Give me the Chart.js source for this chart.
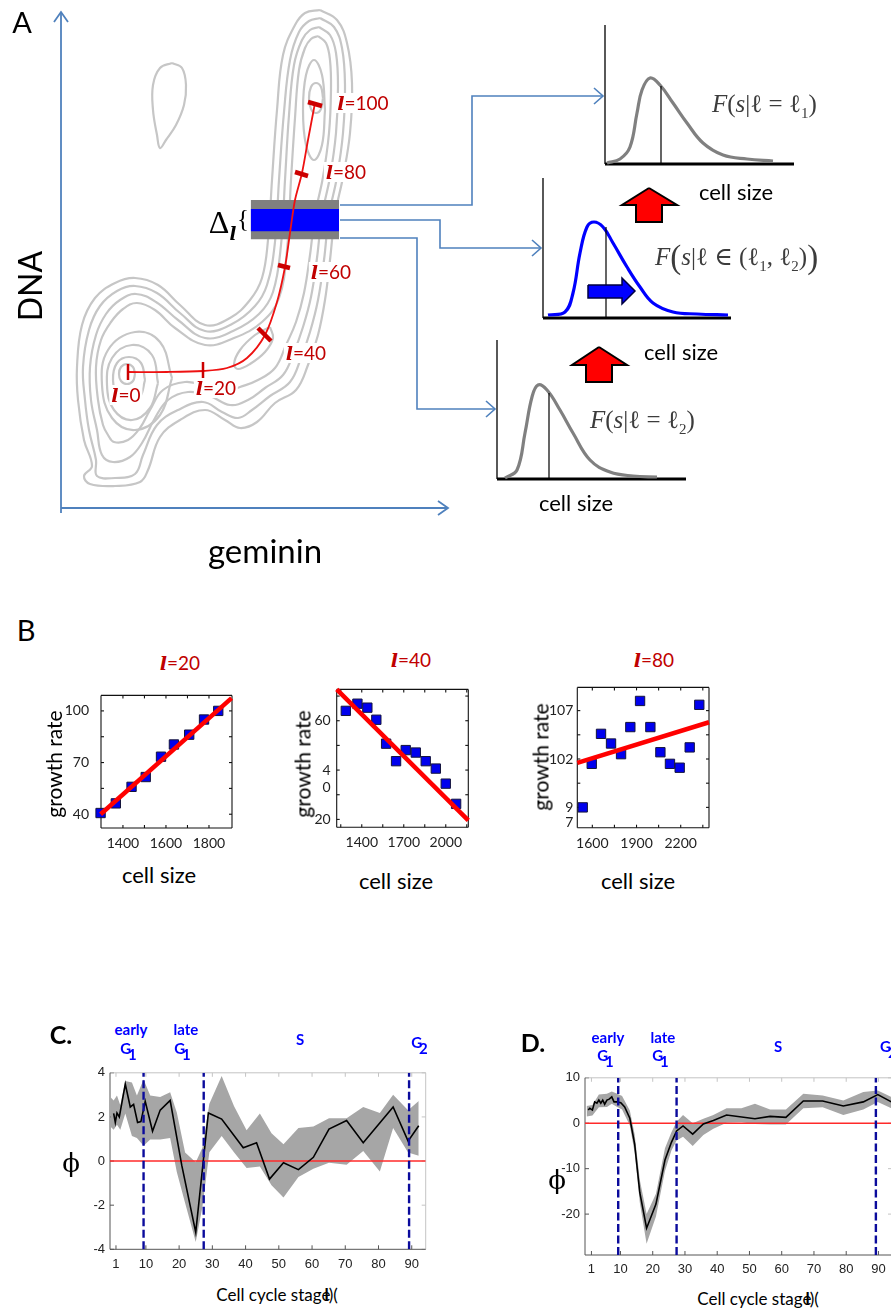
<!DOCTYPE html>
<html>
<head>
<meta charset="utf-8">
<script src="https://cdn.jsdelivr.net/npm/chart.js@4.4.0/dist/chart.umd.min.js"></script>
<style>
  body { margin: 0; width: 891px; height: 1309px; overflow: hidden; background: #fff; position: relative; font-family: Lato, sans-serif; color: #000; }
  canvas { position: absolute; }
  .t { position: absolute; transform: translate(-50%, -50%); white-space: nowrap; line-height: 1; }
  .l { position: absolute; transform: translate(0, -50%); white-space: nowrap; line-height: 1; }
  .red { color: #c00000; font-size: 19px; background: #fff; padding: 0 2px; }
  .ell { font-family: "DejaVu Serif", serif; font-weight: bold; font-style: italic; }
  .math { font-family: "Liberation Serif", "DejaVu Serif", serif; font-size: 25px; color: #3c3c3c; }
  .math i { font-style: italic; }
  .big { font-size: 33px; vertical-align: -3px; }
  .stage { color: #0000ff; font-weight: bold; font-size: 15px; text-align: center; }
  .sub1 { position: relative; left: -3px; top: 6px; }
  .phi { font-family: "DejaVu Serif", serif; font-size: 26px; }
  .ov { margin-left: -6px; font-weight: bold; }
</style>
</head>
<body>
<canvas id="panelA" width="891" height="590" style="left:0;top:0"></canvas>
<canvas id="b20" width="190" height="180" style="left:55px;top:675px"></canvas>
<canvas id="b40" width="190" height="180" style="left:290px;top:675px"></canvas>
<canvas id="b80" width="190" height="180" style="left:530px;top:675px"></canvas>
<canvas id="pc" width="360" height="215" style="left:80px;top:1060px"></canvas>
<canvas id="pd" width="360" height="215" style="left:550px;top:1065px"></canvas>

<!-- panel A text -->
<div class="t" style="left:22px;top:21px;font-size:29px">A</div>
<div class="t" style="left:30px;top:286px;font-size:32px;transform:translate(-50%,-50%) rotate(-90deg)">DNA</div>
<div class="t" style="left:265px;top:550px;font-size:33px">geminin</div>
<div class="t" style="left:219px;top:222px;font-family:'Liberation Serif',serif;font-size:32px">Δ</div>
<div class="t ell" style="left:233px;top:234px;font-size:18px">l</div>
<div class="t" style="left:243px;top:218px;font-family:'Liberation Serif',serif;font-size:25px">{</div>
<div class="t red" style="left:126px;top:395px"><span class="ell">l</span>=0</div>
<div class="t red" style="left:216px;top:388px"><span class="ell">l</span>=20</div>
<div class="t red" style="left:306px;top:353px"><span class="ell">l</span>=40</div>
<div class="t red" style="left:331px;top:272px"><span class="ell">l</span>=60</div>
<div class="t red" style="left:346px;top:172px"><span class="ell">l</span>=80</div>
<div class="t red" style="left:363px;top:103px"><span class="ell">l</span>=100</div>
<div class="l math" style="left:712px;top:106px"><i>F</i>(<i>s</i>|ℓ = ℓ<sub style="font-size:15px">1</sub>)</div>
<div class="l math" style="left:655px;top:257px"><i>F</i><span class="big">(</span><i>s</i>|ℓ ∈ (ℓ<sub style="font-size:15px">1</sub>, ℓ<sub style="font-size:15px">2</sub>)<span class="big">)</span></div>
<div class="l math" style="left:590px;top:422px"><i>F</i>(<i>s</i>|ℓ = ℓ<sub style="font-size:15px">2</sub>)</div>
<div class="t" style="left:736px;top:192px;font-size:22px">cell size</div>
<div class="t" style="left:681px;top:352px;font-size:22px">cell size</div>
<div class="t" style="left:576px;top:503px;font-size:22px">cell size</div>

<!-- panel B text -->
<div class="t" style="left:26px;top:629px;font-size:29px">B</div>
<div class="t red" style="left:180px;top:663px;background:none"><span class="ell">l</span>=20</div>
<div class="t red" style="left:411px;top:660px;background:none"><span class="ell">l</span>=40</div>
<div class="t red" style="left:654px;top:660px;background:none"><span class="ell">l</span>=80</div>
<div class="t" style="left:53px;top:764px;font-size:21px;transform:translate(-50%,-50%) rotate(-90deg)">growth rate</div>
<div class="t" style="left:302px;top:764px;font-size:21px;transform:translate(-50%,-50%) rotate(-90deg)">growth rate</div>
<div class="t" style="left:540px;top:757px;font-size:21px;transform:translate(-50%,-50%) rotate(-90deg)">growth rate</div>
<div class="t" style="left:159px;top:875px;font-size:22px">cell size</div>
<div class="t" style="left:396px;top:881px;font-size:22px">cell size</div>
<div class="t" style="left:638px;top:881px;font-size:22px">cell size</div>

<!-- panels C, D text -->
<div class="t" style="left:61px;top:1034px;font-size:25px;font-weight:bold">C.</div>
<div class="t stage" style="left:131px;top:1029px">early</div>
<div class="t stage" style="left:130px;top:1048px">G<span class="sub1">1</span></div>
<div class="t stage" style="left:186px;top:1029px">late</div>
<div class="t stage" style="left:184px;top:1048px">G<span class="sub1">1</span></div>
<div class="t stage" style="left:300px;top:1039px">S</div>
<div class="t stage" style="left:421px;top:1042px">G<span class="sub1">2</span></div>
<div class="t phi" style="left:71px;top:1163px">ϕ</div>
<div class="t" style="left:277px;top:1294px;font-size:17px">Cell cycle stage<span class="ov">l</span>)(</div>

<div class="t" style="left:533px;top:1042px;font-size:25px;font-weight:bold">D.</div>
<div class="t stage" style="left:608px;top:1037px">early</div>
<div class="t stage" style="left:607px;top:1055px">G<span class="sub1">1</span></div>
<div class="t stage" style="left:663px;top:1037px">late</div>
<div class="t stage" style="left:662px;top:1055px">G<span class="sub1">1</span></div>
<div class="t stage" style="left:778px;top:1046px">S</div>
<div class="l stage" style="left:880px;top:1046px">G<span class="sub1">2</span></div>
<div class="t phi" style="left:557px;top:1180px">ϕ</div>
<div class="t" style="left:758px;top:1298px;font-size:17px">Cell cycle stage<span class="ov">l</span>)(</div>

<script>
// ---------- Panel A: schematic outlines (geminin / DNA units from the arrow axes) ----------
const contour0 = [[259,500],[276,490],[286,467],[291,427],[289,377],[282,333],[274,295],[269,250],[264,210],[257,175],[247,145],[235,120],[214,107],[196,88],[179,82],[164,90],[144,100],[119,90],[99,73],[87,40],[79,28],[54,24],[29,26],[23,34],[31,44],[23,70],[17,110],[16,143],[21,185],[34,212],[54,227],[74,232],[97,225],[119,205],[144,185],[169,192],[189,210],[201,232],[207,270],[211,330],[216,400],[222,455],[234,485],[244,497],[259,500]];
const contour1 = [[259,492],[273,483],[281,462],[284,425],[282,377],[276,333],[268,295],[263,250],[257,210],[249,178],[240,152],[229,128],[209,114],[191,100],[177,92],[161,98],[142,108],[117,100],[96,85],[82,55],[74,36],[54,32],[36,34],[35,50],[28,80],[24,110],[22,143],[28,180],[39,204],[56,219],[74,224],[96,217],[119,197],[144,179],[171,186],[194,204],[206,225],[214,268],[218,330],[223,398],[229,450],[238,478],[248,489],[259,492]];
const contour2 = [[258,483],[269,475],[275,457],[277,423],[275,377],[269,333],[261,295],[256,252],[250,213],[242,183],[233,158],[222,135],[204,122],[187,110],[169,105],[149,114],[127,118],[107,110],[94,92],[81,67],[69,53],[52,48],[41,55],[36,80],[30,110],[29,143],[35,175],[45,196],[59,210],[75,216],[95,208],[117,190],[144,172],[172,179],[198,196],[212,218],[220,265],[224,330],[228,395],[233,445],[241,470],[249,480],[258,483]];
const contour3 = [[257,474],[265,467],[269,450],[270,420],[268,377],[262,333],[254,295],[249,255],[243,217],[235,188],[225,165],[214,142],[197,130],[179,123],[161,117],[144,124],[124,128],[102,120],[89,100],[79,82],[67,70],[53,68],[47,75],[42,85],[37,110],[35,143],[40,170],[50,188],[62,201],[76,207],[94,200],[114,182],[144,165],[173,172],[201,188],[218,212],[226,260],[230,330],[234,392],[238,440],[244,462],[250,471],[257,474]];
const ring1 = [[74,136],[72,129],[66,126],[60,129],[58,136],[60,143],[66,146],[72,143],[74,136]];
const ring2 = [[84,130],[79,113],[68,107],[57,113],[52,130],[56,147],[68,153],[80,147],[84,130]];
const ring3 = [[97,127],[89,102],[71,90],[53,100],[46,125],[51,152],[71,165],[91,155],[97,127]];
const ring4 = [[111,132],[99,95],[74,80],[51,92],[41,125],[47,160],[74,178],[99,168],[111,132]];
const peak1 = [[262,412],[260,401],[255,397],[250,401],[248,412],[250,423],[255,427],[260,423],[262,412]];
const peak2 = [[264,400],[261,365],[253,350],[245,365],[242,400],[245,435],[253,450],[261,435],[264,400]];
const bump = [[209,183],[212,172],[204,158],[189,146],[177,141],[173,146],[179,160],[194,175],[209,183]];
const island = [[111,447],[121,442],[125,425],[123,405],[115,385],[105,370],[99,362],[96,375],[92,400],[92,425],[99,442],[111,447]];

// mean trajectory and the l = 0, 20, 40, 60, 80, 100 marks
const pathGem = [67, 106, 142, 166, 186, 204, 216, 224, 229, 234, 241, 247, 254];
const pathDna = [138, 138, 139, 142, 152, 175, 208, 243, 277, 310, 337, 370, 407];
const stageMarks = [[[67,146],[67,130]], [[142,148],[142,130]], [[197,182],[210,169]], [[217,245],[229,242]], [[234,338],[247,334]], [[247,408],[261,404]]];

// window Δl and connectors to the three size distributions
const windowGem = [189.7, 278];
const connectors = [[[279,305],[411,305],[411,414],[542,414]], [[279,290],[379,290],[379,262],[480,262]], [[279,272],[356,272],[356,101],[434,101]]];
const arrowHeads = [[[533,422],[542,414],[533,406]], [[471,270],[480,262],[471,254]], [[425,109],[434,101],[425,93]]];
const dnaAxis = [[0,-3],[0,498]], dnaHead = [[-7,488],[0,498],[7,488]];
const gemAxis = [[0,2],[387,2]], gemHead = [[377,9],[387,2],[377,-5]];

// cell size distributions F(s|l)
const d1X = [546, 559, 569, 576, 581, 589, 599, 612, 626, 642, 662, 686, 712];
const d1Y = [347, 351, 363, 397, 420, 432, 425, 407, 387, 367, 355, 351, 349];
const d2X = [487, 504, 512, 519, 526, 533, 542, 552, 566, 579, 592, 612, 636, 667];
const d2Y = [195, 198, 217, 257, 283, 288, 283, 267, 243, 223, 207, 198, 196, 195];
const d3X = [444, 456, 464, 471, 477, 486, 499, 512, 529, 549, 572, 596];
const d3Y = [32, 40, 77, 113, 125, 120, 100, 77, 50, 38, 34, 33];
const distAxes = [[[544,485],[544,346]], [[482,332],[482,192]], [[436,170],[436,31]]];
const distBase = [[[544,346],[733,346]], [[482,192],[670,192]], [[436,31],[625,31]]];
const distMean = [[[600,424],[600,346]], [[545,283],[545,192]], [[488,117],[488,31]]];
const upArrow1 = [[588,322],[616,305],[601,305],[601,288],[575,288],[575,305],[561,305],[588,322]];
const upArrow2 = [[538,163],[566,145],[551,145],[551,128],[525,128],[525,145],[511,145],[538,163]];
const shiftArrow = [[527,225],[561,225],[561,232],[574,219],[561,206],[561,212],[527,212],[527,225]];

// ---------- Panel B: growth rate vs cell size ----------
const size20 = [1296, 1367, 1440, 1506, 1577, 1637, 1708, 1777, 1843];
const rate20 = [40.7, 46.3, 55.9, 61.6, 73.4, 80.5, 86.2, 95, 100];
const fit20X = [1296, 1905], fit20Y = [40, 107.4];
const size40 = [1286, 1369, 1440, 1504, 1574, 1645, 1714, 1786, 1857, 1929, 2000, 2074];
const rate40 = [64, 66.9, 65.3, 60.4, 50.7, 43.6, 48.1, 47.1, 43.6, 40.6, 34.5, 26.3];
const fit40X = [1221, 2161], fit40Y = [72.7, 19.6];
const size80 = [1535, 1596, 1659, 1727, 1795, 1858, 1924, 1994, 2062, 2127, 2193, 2261, 2326];
const rate80 = [97, 101.5, 104.6, 103.6, 102.5, 105.3, 108, 105.3, 102.7, 101.5, 101.1, 103.2, 107.6];
const fit80X = [1498, 2392], fit80Y = [101.6, 105.8];

// ---------- Panels C, D: phi along the cell cycle ----------
const stageBounds = [9.3, 27.4, 89.2];
const stageTicks = [1, 10, 20, 30, 40, 50, 60, 70, 80, 90];
const cStage = [0.3, 0.8, 1.3, 2, 3.8, 5.3, 6.3, 7.5, 8.5, 9.8, 12, 14.3, 17.3, 20.8, 25, 28.8, 32.8, 39.3, 43.3, 47.2, 51.4, 55.9, 60.4, 65.1, 70.4, 75.4, 84.4, 88.9, 92.1];
const cPhi = [2.16, 1.75, 2.18, 2.0, 3.49, 2.45, 2.57, 1.75, 1.79, 2.71, 1.35, 2.31, 2.75, -0.2, -3.23, 2.18, 1.9, 0.6, 0.83, -0.82, -0.08, -0.39, 0.17, 1.45, 1.84, 0.83, 2.45, 0.9, 1.6];
const cBandStage = [-0.7, 0.3, 1.3, 2.3, 3.8, 5.8, 7.3, 9.3, 11.3, 14.3, 17.3, 19.3, 21.8, 25, 27, 29.1, 32.8, 36.5, 40.3, 44.3, 47.8, 51.4, 55.9, 60.4, 65.1, 70.4, 75.4, 80.4, 84.4, 88.9, 92.1];
const cUpper = [2.9, 2.75, 2.97, 2.53, 3.63, 3.56, 2.97, 3.7, 2.97, 2.9, 3.12, 2.2, 0.39, -0.06, 0.6, 2.6, 3.85, 2.5, 1.4, 2.15, 1.26, 0.76, 1.5, 1.57, 1.94, 1.94, 2.45, 2.18, 3.01, 2.3, 2.72];
const cLower = [1.57, 1.42, 1.64, 1.42, 2.16, 1.13, 1.05, 0.69, 0.98, 0.98, 1.05, -0.5, -1.9, -3.67, -2.08, 0.4, 1.13, 0.4, -0.32, -0.25, -1.1, -1.65, -0.72, -0.35, -0.08, -0.17, 0.46, -0.47, 1.5, 0.39, 0.24];

const dStage = [0, 0.5, 1.3, 2, 2.7, 3.3, 3.9, 4.5, 5.1, 5.8, 6.5, 7.3, 8, 8.8, 10.1, 11.3, 12.9, 14.4, 16, 18.1, 21, 23.8, 25.8, 27.4, 29.4, 32.4, 35.7, 38.8, 42.9, 51.7, 56.4, 61.3, 66.7, 72.7, 79.1, 85.3, 89.8, 94];
const dPhi = [2.9, 3.3, 2.9, 4.7, 4.4, 5.1, 4.4, 5.1, 4.2, 5.1, 5.3, 5.8, 4.7, 4.7, 4.5, 3.6, 1.1, -4.6, -15.3, -23.1, -17.8, -8.1, -4.2, -1.7, -0.6, -2.4, -0.15, 0.6, 1.8, 1.0, 1.5, 1.3, 4.9, 4.9, 3.8, 4.7, 6.3, 4.7];
const dBandStage = [-0.5, 1.3, 3.3, 5.8, 7.3, 9, 10.5, 12.9, 14.4, 16, 18.1, 21, 23.8, 25.8, 27.4, 29.4, 32.4, 35.7, 38.8, 42.9, 47.5, 51.7, 56.4, 61.3, 66.7, 72.7, 79.1, 85.3, 89.8, 94];
const dUpper = [3.8, 4.0, 6.3, 6.5, 7.0, 6.5, 6.0, 2.8, -2.5, -12.5, -20.0, -15.5, -5.5, -2.0, 0.3, 1.8, 0.0, 1.0, 1.8, 3.3, 3.3, 4.3, 3.0, 3.0, 6.5, 6.1, 5.0, 6.9, 7.2, 5.8];
const dLower = [1.5, 1.7, 3.5, 3.6, 4.3, 3.6, 3.0, -0.5, -6.5, -17.5, -26.5, -20.5, -10.5, -6.0, -3.8, -3.0, -5.0, -2.6, -1.2, 0.1, 0.2, -0.15, -0.3, -0.3, 3.3, 3.5, 1.8, 3.0, 4.7, 3.3];

// ---------- helpers ----------
Chart.defaults.animation = false;
Chart.defaults.responsive = false;
Chart.defaults.events = [];
Chart.defaults.plugins.legend.display = false;
Chart.defaults.plugins.tooltip.enabled = false;

const pts = a => a.map(([x, y]) => ({x, y}));
const xy = (xs, ys) => xs.map((x, i) => ({x, y: ys[i]}));
const line = (data, color, width, extra) =>
  Object.assign({data, borderColor: color, borderWidth: width, pointRadius: 0, fill: false, tension: 0}, extra || {});

// box around plot area with inward tick marks (matlab style)
function boxTicks(o) {
  return {
    id: 'boxTicks',
    beforeDatasetsDraw(chart) {
      const {ctx, chartArea: a} = chart;
      const sx = chart.scales.x, sy = chart.scales.y;
      const seg = (x1, y1, x2, y2, c) => { ctx.strokeStyle = c; ctx.beginPath(); ctx.moveTo(x1, y1); ctx.lineTo(x2, y2); ctx.stroke(); };
      ctx.save();
      ctx.lineWidth = o.width;
      o.xMarks.forEach(v => {
        const p = sx.getPixelForValue(v);
        seg(p, a.bottom, p, a.bottom - o.len, o.dark);
        seg(p, a.top, p, a.top + o.len, o.light);
      });
      o.yMarks.forEach(v => {
        const p = sy.getPixelForValue(v);
        seg(a.left, p, a.left + o.len, p, o.dark);
        seg(a.right, p, a.right - o.len, p, o.light);
      });
      seg(a.left, a.top, a.right, a.top, o.light);
      seg(a.right, a.top, a.right, a.bottom, o.light);
      seg(a.left, a.bottom, a.right, a.bottom, o.dark);
      seg(a.left, a.top, a.left, a.bottom, o.dark);
      ctx.restore();
    }
  };
}

// ---------- Panel A ----------
const contourStyle = {tension: 0.4};
const gray = '#c6c6c6';
const aSets = [];
stageMarks.forEach((m, i) => aSets.push(line(pts(m), '#cc0000', i < 2 ? 2.5 : 4.5)));
aSets.push(line(xy(pathGem, pathDna), '#ee1111', 1.8, {tension: 0.3}));
[upArrow1, upArrow2].forEach(a => aSets.push(line(pts(a), '#000', 2, {fill: 'shape', backgroundColor: '#ff0000'})));
aSets.push(line(pts(shiftArrow), '#000040', 1.5, {fill: 'shape', backgroundColor: '#0000ff'}));
distMean.forEach(m => aSets.push(line(pts(m), '#000', 1.2)));
aSets.push(line(xy(d1X, d1Y), '#808080', 3.2, {tension: 0.4}));
aSets.push(line(xy(d2X, d2Y), '#0000ff', 3.2, {tension: 0.4}));
aSets.push(line(xy(d3X, d3Y), '#808080', 3.2, {tension: 0.4}));
distAxes.forEach(m => aSets.push(line(pts(m), '#000', 1.3)));
distBase.forEach(m => aSets.push(line(pts(m), '#000', 3.2)));
connectors.forEach(c => aSets.push(line(pts(c), '#4f81bd', 1.6)));
arrowHeads.forEach(c => aSets.push(line(pts(c), '#4f81bd', 1.6)));
[dnaAxis, dnaHead, gemAxis, gemHead].forEach(c => aSets.push(line(pts(c), '#4f81bd', 1.8)));
aSets.push(line(xy(windowGem, [301, 301]), '#0000ff', 0, {fill: {value: 278.7}, backgroundColor: '#0000ff'}));
aSets.push(line(xy(windowGem, [310, 310]), '#808080', 0, {fill: {value: 270.7}, backgroundColor: '#808080'}));
[contour0, contour1, contour2, contour3, ring1, ring2, ring3, ring4, peak1, peak2, bump, island]
  .forEach(c => aSets.push(line(pts(c), gray, 2.2, contourStyle)));

new Chart(document.getElementById('panelA'), {
  type: 'line',
  data: {datasets: aSets},
  options: {
    layout: {padding: 0},
    scales: {
      x: {type: 'linear', min: -61, max: 830, display: false},
      y: {type: 'linear', min: -80, max: 510, display: false}
    }
  }
});

// ---------- Panel B ----------
function growthPanel(id, c) {
  const font = {family: 'Lato', size: 14};
  new Chart(document.getElementById(id), {
    type: 'line',
    data: {datasets: [
      line(xy(c.fitX, c.fitY), '#ff0000', 4.5, {clip: false}),
      {data: xy(c.sizes, c.rates), showLine: false, pointStyle: 'rect', pointRadius: 6.6,
       backgroundColor: '#0000ee', borderColor: '#14143c', borderWidth: 1, clip: false}
    ]},
    options: {
      layout: {padding: {top: c.padTop, right: c.padRight, left: 0, bottom: 0}},
      scales: {
        x: {type: 'linear', min: c.xMin, max: c.xMax, grid: {display: false, drawTicks: false}, border: {display: false},
            afterBuildTicks: s => { s.ticks = c.xLabels.map(v => ({value: v})); },
            afterFit: s => { s.height = c.xHeight; },
            ticks: {font, color: '#222', padding: 7, maxRotation: 0, autoSkip: false, callback: v => String(v)}},
        y: {type: 'linear', min: c.yMin, max: c.yMax, grid: {display: false, drawTicks: false}, border: {display: false},
            afterBuildTicks: s => { s.ticks = c.yLabelVals.map(v => ({value: v})); },
            afterFit: s => { s.width = c.yWidth; },
            ticks: {font, color: '#222', padding: c.yPad, autoSkip: false, callback: (v, i) => c.yLabels[i]}}
      }
    },
    plugins: [boxTicks({xMarks: c.xMarks, yMarks: c.yMarks, len: 3, width: 1.1, dark: '#111', light: '#111'})]
  });
}

growthPanel('b20', {sizes: size20, rates: rate20, fitX: fit20X, fitY: fit20Y,
  xMin: 1298, xMax: 1907, yMin: 32, yMax: 109,
  xLabels: [1400, 1600, 1800], yLabelVals: [40, 70, 100], yLabels: ['40', '70', '100'],
  xMarks: [1400, 1500, 1600, 1700, 1800], yMarks: [40, 55, 70, 85, 100],
  yWidth: 46, xHeight: 27, padTop: 9, padRight: 13, yPad: 12});

growthPanel('b40', {sizes: size40, rates: rate40, fitX: fit40X, fitY: fit40Y,
  xMin: 1221, xMax: 2161, yMin: 16.8, yMax: 72.7,
  xLabels: [1400, 1700, 2000], yLabelVals: [20, 32.8, 40, 60], yLabels: ['20', '0', '4', '60'],
  xMarks: [1250, 1400, 1550, 1700, 1850, 2000, 2150], yMarks: [20, 30, 40, 50, 60, 70],
  yWidth: 46.7, xHeight: 27.7, padTop: 8.3, padRight: 11.7, yPad: 6});

growthPanel('b80', {sizes: size80, rates: rate80, fitX: fit80X, fitY: fit80Y,
  xMin: 1498, xMax: 2392, yMin: 94.9, yMax: 109.4,
  xLabels: [1600, 1900, 2200], yLabelVals: [95.4, 97, 102, 107], yLabels: ['7', '9', '102', '107'],
  xMarks: [1600, 1750, 1900, 2050, 2200, 2350], yMarks: [97, 99.5, 102, 104.5, 107],
  yWidth: 47.3, xHeight: 27.3, padTop: 7.7, padRight: 11, yPad: 4});

// ---------- Panels C, D ----------
function phiPanel(id, c) {
  const font = {family: 'Liberation Sans', size: 13};
  const sets = stageBounds.map(b => line(xy([b, b], [c.yMin, c.yMax]), '#0b0b9c', 2.4, {borderDash: [8, 3.5]}));
  sets.push(line(xy(c.stage, c.phi), '#000', 1.6));
  sets.push(line(xy([c.xMin, c.xMax], [0, 0]), '#ff2a2a', 1.6));
  sets.push(line(xy(c.bandStage, c.upper), 'rgba(0,0,0,0)', 0, {fill: '+1', backgroundColor: '#a6a6a6'}));
  sets.push(line(xy(c.bandStage, c.lower), 'rgba(0,0,0,0)', 0));
  new Chart(document.getElementById(id), {
    type: 'line',
    data: {datasets: sets},
    options: {
      layout: {padding: {top: c.padTop, right: c.padRight, left: 0, bottom: 0}},
      scales: {
        x: {type: 'linear', min: c.xMin, max: c.xMax, grid: {display: false, drawTicks: false}, border: {display: false},
            afterBuildTicks: s => { s.ticks = stageTicks.map(v => ({value: v})); },
            afterFit: s => { s.height = c.xHeight; },
            ticks: {font, color: '#222', padding: 7, maxRotation: 0, autoSkip: false, callback: v => String(v)}},
        y: {type: 'linear', min: c.yMin, max: c.yMax, grid: {display: false, drawTicks: false}, border: {display: false},
            afterBuildTicks: s => { s.ticks = c.yTicks.map(v => ({value: v})); },
            afterFit: s => { s.width = c.yWidth; },
            ticks: {font, color: '#222', padding: 5, autoSkip: false, callback: v => String(v)}}
      }
    },
    plugins: [boxTicks({xMarks: stageTicks, yMarks: c.yTicks, len: 4, width: 1, dark: '#555', light: '#c4c4c4'})]
  });
}

phiPanel('pc', {stage: cStage, phi: cPhi, bandStage: cBandStage, upper: cUpper, lower: cLower,
  xMin: -0.8, xMax: 94.2, yMin: -4, yMax: 4, yTicks: [-4, -2, 0, 2, 4],
  yWidth: 30, xHeight: 25.7, padTop: 8.3, padRight: 14.3});

phiPanel('pd', {stage: dStage, phi: dPhi, bandStage: dBandStage, upper: dUpper, lower: dLower,
  xMin: -1, xMax: 94.2, yMin: -29, yMax: 10, yTicks: [-20, -10, 0, 10],
  yWidth: 35, xHeight: 25, padTop: 7.7, padRight: 18});
</script>
</body>
</html>
